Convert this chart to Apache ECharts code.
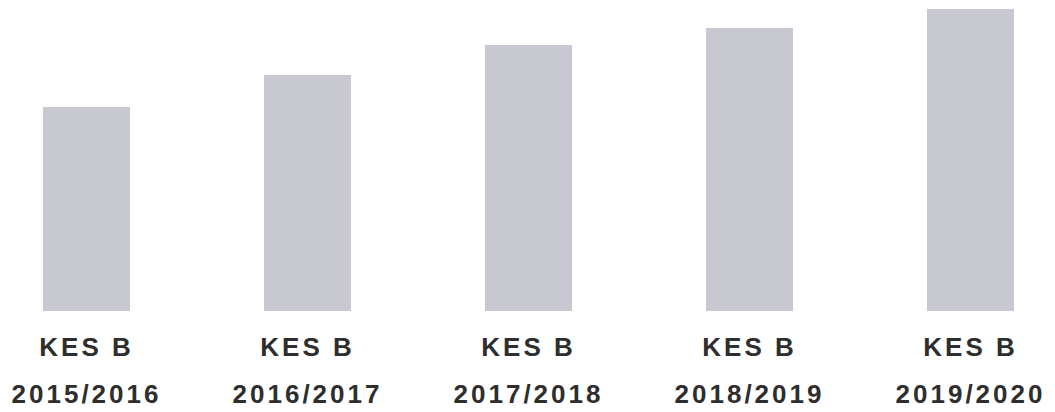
<!DOCTYPE html>
<html>
<head>
	<meta charset="UTF-8">
	<title>KES B</title>
	<style type="text/css">
		html, body {
			margin: 0;
			padding: 0;
			background: #fff;
			overflow: hidden;
		}
		#chart {
			width: 1105px;
			height: 412px;
			margin-left: -24px;
		}
		/* the labels in the scan are spaced out */
		#chart text {
			letter-spacing: 3px;
		}
	</style>
</head>
<body>
	<div id="chart"></div>
	<script type="text/javascript" src="https://cdn.jsdelivr.net/npm/echarts@6/dist/echarts.min.js"></script>
	<script>
		// data
		var seriesName = 'KES B';
		var years = ['2015/2016', '2016/2017', '2017/2018', '2018/2019', '2019/2020'];
		var values = [204, 236, 266, 283, 302];

		var echart = echarts.init(document.getElementById('chart'), null, { renderer: 'svg' });

		var option = {
			animation: false,
			grid: {
				left: 0,
				right: 0,
				top: 0,
				bottom: 101
			},
			xAxis: {
				type: 'category',
				data: years,
				axisLine: { show: false },
				axisTick: { show: false },
				axisLabel: {
					margin: 12,
					interval: 0,
					formatter: function (val) {
						return '{a|' + seriesName + '}\n{b|' + val + '}';
					},
					rich: {
						a: {
							fontFamily: 'Liberation Sans',
							fontWeight: 'bold',
							fontSize: 26,
							lineHeight: 47,
							color: '#2e2e2e'
						},
						b: {
							fontFamily: 'Liberation Sans',
							fontWeight: 'bold',
							fontSize: 26,
							lineHeight: 47,
							color: '#2e2e2e'
						}
					}
				}
			},
			yAxis: {
				type: 'value',
				min: 0,
				max: 311,
				show: false
			},
			series: [
				{
					name: seriesName,
					type: 'bar',
					barWidth: 87,
					itemStyle: { color: '#c8c8d1' },
					data: values
				}
			]
		};
		echart.setOption(option);
	</script>
</body>
</html>
